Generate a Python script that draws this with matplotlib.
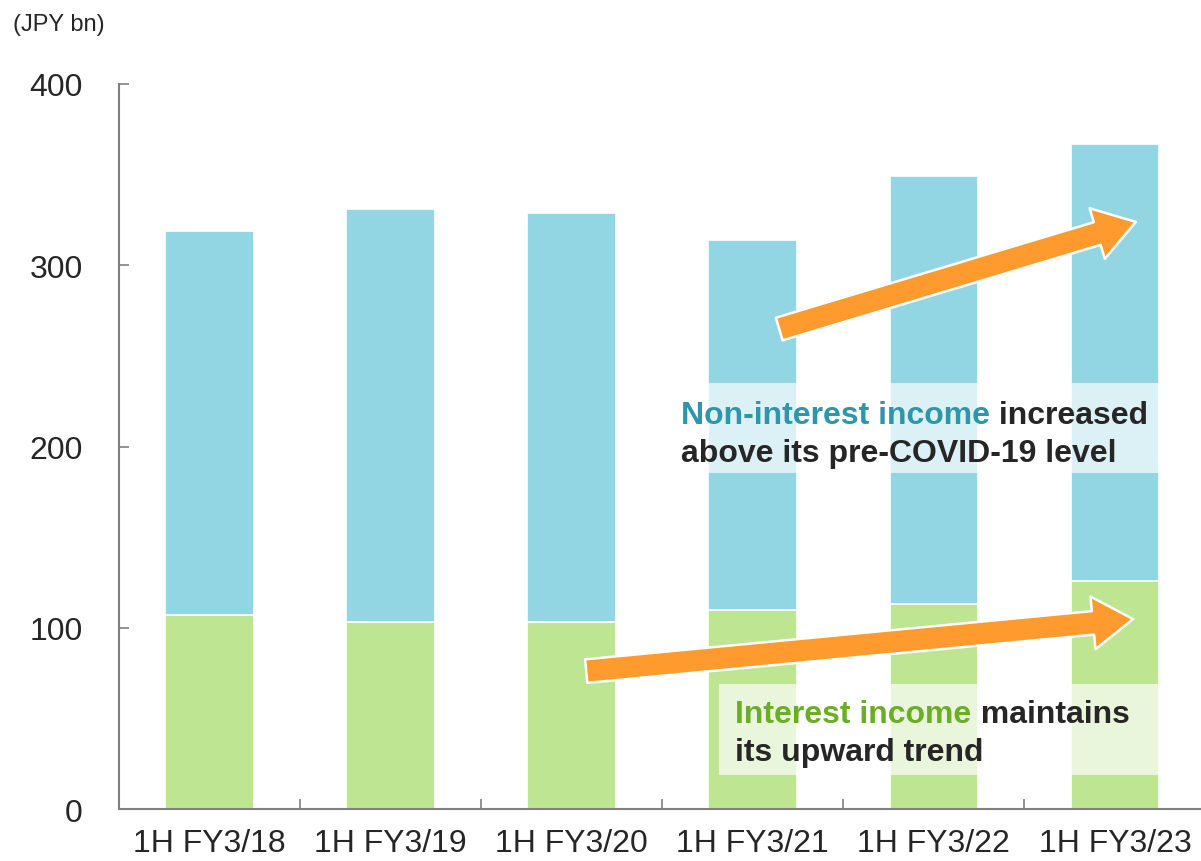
import matplotlib
matplotlib.use("Agg")
import matplotlib.pyplot as plt
from matplotlib.patches import FancyArrowPatch, Rectangle

plt.rcParams['font.family'] = ['Liberation Sans', 'DejaVu Sans']

periods = ["1H FY3/18", "1H FY3/19", "1H FY3/20", "1H FY3/21", "1H FY3/22", "1H FY3/23"]
interest = [107, 103, 103, 110, 113, 126]
non_interest = [212, 228, 226, 204, 236, 241]
yticks = [0, 100, 200, 300, 400]

blue = "#93D6E3"
green = "#BEE592"
orange = "#FF9A2E"
dark = "#262626"

fig = plt.figure(figsize=(12.01, 8.62), dpi=100)
ax = fig.add_axes([0.0991, 0.0603, 0.9009, 0.8411])

x = list(range(len(periods)))
ax.bar(x, interest, width=0.49, color=green, edgecolor="white", linewidth=1.2, zorder=2)
ax.bar(x, non_interest, width=0.49, bottom=interest, color=blue, edgecolor="white",
       linewidth=1.2, zorder=2)

ax.set_xlim(-0.5, 5.475)
ax.set_ylim(0, 400)
ax.set_yticks(yticks)
ax.set_xticks(x)
ax.set_xticklabels(periods)
ax.set_xticks([i + 0.5 for i in x[:-1]], minor=True)

ax.tick_params(axis="y", direction="in", length=7, width=1.2, color="#808080",
               labelsize=23, pad=26, labelcolor=dark)
ax.tick_params(axis="x", which="major", length=0, labelsize=23, pad=14, labelcolor=dark)
ax.tick_params(axis="x", which="minor", direction="in", length=7, width=1.2, color="#808080")

for s in ["top", "right"]:
    ax.spines[s].set_visible(False)
for s in ["left", "bottom"]:
    ax.spines[s].set_color("#808080")
    ax.spines[s].set_linewidth(1.5)

# translucent boxes behind the notes
ax.add_patch(Rectangle((2.555, 185.4), 2.7, 49.6, facecolor="white", alpha=0.68,
                       edgecolor="none", zorder=3))
ax.add_patch(Rectangle((2.815, 18.8), 2.44, 50.2, facecolor="white", alpha=0.68,
                       edgecolor="none", zorder=3))

# trend arrows
style = "Simple,tail_width=17,head_width=38,head_length=29"
for tail, tip in [((3.146, 264.8), (5.115, 323.9)), ((2.08, 76.1), (5.10, 104.8))]:
    ax.add_patch(FancyArrowPatch(tail, tip, arrowstyle=style, mutation_scale=1,
                                 facecolor=orange, edgecolor="white", linewidth=1.8,
                                 shrinkA=0, shrinkB=0, zorder=4))

# notes
fs = 23
t1 = ax.text(2.605, 213, "Non-interest income", color="#2E96A8", fontsize=fs,
             fontweight="bold", ha="left", va="baseline", zorder=5)
ax.annotate(" increased", xy=(1, 0), xycoords=t1, va="bottom", ha="left",
            color=dark, fontsize=fs, fontweight="bold", zorder=5)
ax.text(2.605, 192, "above its pre-COVID-19 level", color=dark, fontsize=fs,
        fontweight="bold", ha="left", va="baseline", zorder=5)

t2 = ax.text(2.903, 48, "Interest income", color="#6AAE27", fontsize=fs,
             fontweight="bold", ha="left", va="baseline", zorder=5)
ax.annotate(" maintains", xy=(1, 0), xycoords=t2, va="bottom", ha="left",
            color=dark, fontsize=fs, fontweight="bold", zorder=5)
ax.text(2.903, 27, "its upward trend", color=dark, fontsize=fs,
        fontweight="bold", ha="left", va="baseline", zorder=5)

fig.text(13 / 1201, 1 - 25 / 862, "(JPY bn)", fontsize=17, color=dark, va="center", ha="left")

fig.savefig("out.png", dpi=100)
